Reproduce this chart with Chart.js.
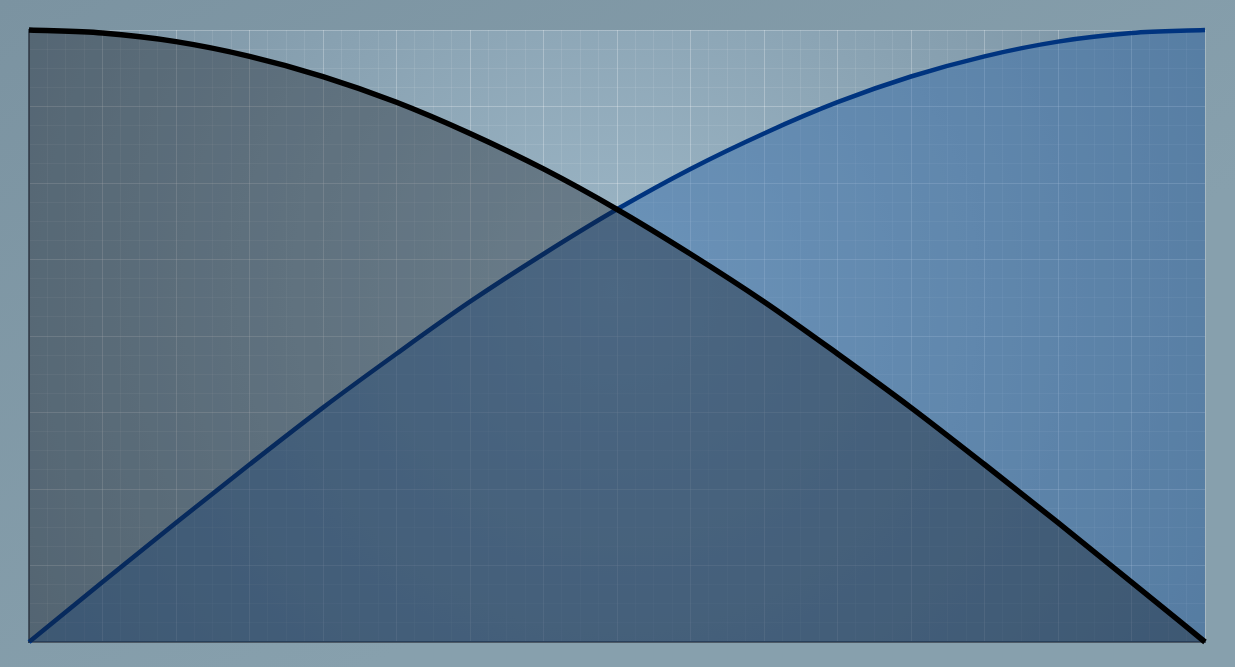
<!DOCTYPE html>
<html>
<head>
<meta charset="utf-8">
<script src="https://cdn.jsdelivr.net/npm/chart.js@4"></script>
<style>
  html, body { margin: 0; padding: 0; background: #7e96a4; }
  #wrap { width: 1235px; height: 667px; }
</style>
</head>
<body>
<div id="wrap"><canvas id="chart" width="1235" height="667"></canvas></div>
<script>
// x positions in major grid units (16 major columns)
const xs = [0, 1, 2, 3, 4, 5, 6, 7, 8, 9, 10, 11, 12, 13, 14, 15, 16];
// falling curve (black)
const fallingVals = [1.0, 0.995, 0.981, 0.957, 0.924, 0.882, 0.831, 0.773, 0.707, 0.634, 0.556, 0.471, 0.383, 0.290, 0.195, 0.098, 0.0];
// rising curve (blue)
const risingVals = [0.0, 0.098, 0.195, 0.290, 0.383, 0.471, 0.556, 0.634, 0.707, 0.773, 0.831, 0.882, 0.924, 0.957, 0.981, 0.995, 1.0];

const toPoints = vals => xs.map((x, i) => ({ x, y: vals[i] }));

const majorGrid = 'rgba(255,255,255,0.26)';
const minorGrid = 'rgba(255,255,255,0.09)';

const backdrop = {
	id: 'backdrop',
	beforeDraw(chart) {
		const { ctx, width, height, chartArea: a } = chart;
		ctx.save();
		const outer = ctx.createLinearGradient(0, 0, width * 0.3, height);
		outer.addColorStop(0, '#7b93a1');
		outer.addColorStop(1, '#87a0ad');
		ctx.fillStyle = outer;
		ctx.fillRect(0, 0, width, height);

		const cx = (a.left + a.right) / 2;
		const inner = ctx.createRadialGradient(cx, a.top + 260, 0, cx, a.top + 260, 720);
		inner.addColorStop(0, '#9cb6c6');
		inner.addColorStop(1, '#768e9e');
		ctx.fillStyle = inner;
		ctx.fillRect(a.left, a.top, a.right - a.left, a.bottom - a.top);
		ctx.restore();
	},
};

const ctx = document.querySelector('#chart');

const myChart = new Chart(ctx, {
	type: 'line',
	data: {
		datasets: [
			{
				label: 'falling',
				data: toPoints(fallingVals),
				borderColor: '#000000',
				borderWidth: 5.5,
				backgroundColor: 'rgba(20,26,32,0.36)',
				fill: 'origin',
				pointRadius: 0,
				cubicInterpolationMode: 'monotone',
				borderCapStyle: 'butt',
				borderJoinStyle: 'round',
				clip: false,
			},
			{
				label: 'rising',
				data: toPoints(risingVals),
				borderColor: '#00347f',
				borderWidth: 4.5,
				backgroundColor: 'rgba(35,95,165,0.40)',
				fill: 'origin',
				pointRadius: 0,
				cubicInterpolationMode: 'monotone',
				borderCapStyle: 'butt',
				borderJoinStyle: 'round',
				clip: false,
			},
		],
	},
	options: {
		responsive: false,
		animation: false,
		devicePixelRatio: 1,
		layout: { padding: { left: 29, top: 30, right: 30, bottom: 25 } },
		plugins: { legend: { display: false }, tooltip: { enabled: false } },
		scales: {
			x: {
				type: 'linear',
				min: 0,
				max: 16,
				ticks: { display: false, stepSize: 0.25 },
				grid: {
					drawTicks: false,
					color: c => (c.tick && Number.isInteger(c.tick.value) ? majorGrid : minorGrid),
				},
				border: { color: 'rgba(40,50,62,0.7)', width: 2 },
			},
			y: {
				type: 'linear',
				min: 0,
				max: 1,
				ticks: { display: false, stepSize: 0.03125 },
				grid: {
					drawTicks: false,
					color: c => (c.tick && Number.isInteger(Math.round(c.tick.value * 32e3) / 4e3) ? majorGrid : minorGrid),
				},
				border: { color: 'rgba(40,50,62,0.7)', width: 2 },
			},
		},
	},
	plugins: [backdrop],
});
</script>
</body>
</html>
